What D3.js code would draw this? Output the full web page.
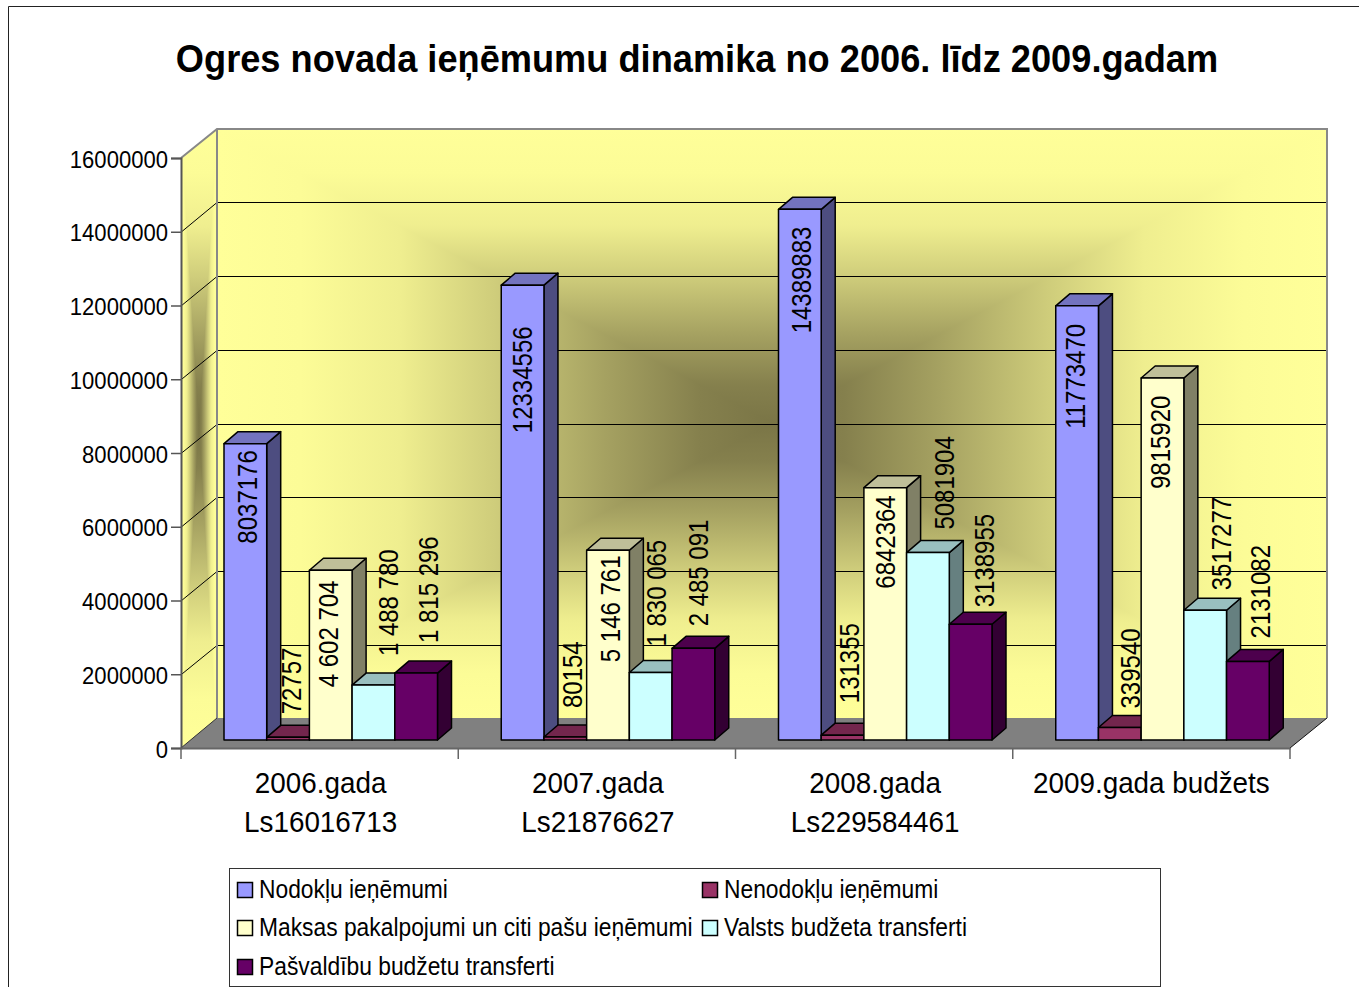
<!DOCTYPE html>
<html><head><meta charset="utf-8">
<script src="https://cdn.jsdelivr.net/npm/d3@7"></script>
<style>
html,body{margin:0;padding:0;background:#fff;overflow:hidden}
svg{display:block}
text{font-family:"Liberation Sans",Arial,sans-serif;fill:#000}
</style></head><body>
<script>
// ---- data ----
const categories = ["2006.gada","2007.gada","2008.gada","2009.gada budžets"];
const categorySums = ["Ls16016713","Ls21876627","Ls229584461",""];
const seriesNames = ["Nodokļu ieņēmumi","Nenodokļu ieņēmumi","Maksas pakalpojumi un citi pašu ieņēmumi","Valsts budžeta transferti","Pašvaldību budžetu transferti"];
const nodokli  = [8037176,12334556,14389883,11773470];
const nenodokli= [72757,80154,131355,339540];
const maksas   = [4602704,5146761,6842364,9815920];
const valsts   = [1488780,1830065,5081904,3517277];
const pasvaldibu=[1815296,2485091,3138955,2131082];
const nodokliLabels  = ["8037176","12334556","14389883","11773470"];
const nenodokliLabels= ["72757","80154","131355","339540"];
const maksasLabels   = ["4 602 704","5 146 761","6842364","9815920"];
const valstsLabels   = ["1 488 780","1 830 065","5081904","3517277"];
const pasvaldibuLabels=["1 815 296","2 485 091","3138955","2131082"];
const yTicks = [0,2000000,4000000,6000000,8000000,10000000,12000000,14000000,16000000];
const seriesColors = ["#9999FF","#993366","#FFFFCC","#CCFFFF","#660066"];

const allValues = [nodokli,nenodokli,maksas,valsts,pasvaldibu];
const allLabels = [nodokliLabels,nenodokliLabels,maksasLabels,valstsLabels,pasvaldibuLabels];

// label placement: baseline x offset from the bar's left edge, and
// y offset of the label's bottom end from the bar's top edge (by series, by category)
const labelDx = [[33,31,32,29],[34,38,38,42],[29,33,31,29],[46,37,47,47],[43,36,45,43]];
const labelDy = [[100,148,124,123],[-23,-29,-32,-19],[117,112,101,111],[-29,-26,-23,-20],[-30,-22,-17,-23]];

// ---- layout ----
const W=1359,H=987, SX=0.92;
const depthWall={x:36,y:-30}, depthBar={x:14,y:-12};
const y = d3.scaleLinear().domain([0,16000000]).range([748,158]);
const yBar = d3.scaleLinear().domain([0,16000000]).range([740,150]);
const x0 = d3.scaleBand().domain(categories).range([181,1290]);
const x1 = d3.scaleBand().domain(d3.range(5)).range([43,256.5]);

const svg=d3.select("body").append("svg").attr("width",W).attr("height",H);
const defs=svg.append("defs");

// outer frame
svg.append("path").attr("d",`M8.5,${H} V6.5 H${W}`).attr("fill","none").attr("stroke","#222").attr("stroke-width",1);

// title
svg.append("text").attr("transform",`translate(697,72) scale(0.953,1)`).attr("text-anchor","middle")
  .attr("font-size",38).attr("font-weight","bold").text("Ogres novada ieņēmumu dinamika no 2006. līdz 2009.gadam");

// rectangular path gradient
const yellow="#FFFF99", dark="#7A7546";
const mix=d3.interpolateRgb(yellow,dark);
const stops=[[0,0],[.15,.02],[.33,.12],[.5,.36],[.7,.68],[.87,.92],[1,1]];
function pathGradient(id,b,c,clipPts){
  const dirs={l:[b.x0,c.y,c.x,c.y],r:[b.x1,c.y,c.x,c.y],t:[c.x,b.y0,c.x,c.y],b:[c.x,b.y1,c.x,c.y]};
  Object.entries(dirs).forEach(([k,d])=>{
    const g=defs.append("linearGradient").attr("id",id+k).attr("gradientUnits","userSpaceOnUse")
      .attr("x1",d[0]).attr("y1",d[1]).attr("x2",d[2]).attr("y2",d[3]);
    stops.forEach(s=>g.append("stop").attr("offset",s[0]).attr("stop-color",mix(s[1])));
  });
  defs.append("clipPath").attr("id",id+"clip").append("polygon").attr("points",clipPts.join(" "));
  const g=svg.append("g").attr("clip-path",`url(#${id}clip)`);
  g.append("rect").attr("x",b.x0).attr("y",b.y0).attr("width",c.x-b.x0+.5).attr("height",b.y1-b.y0).attr("fill",`url(#${id}l)`);
  g.append("rect").attr("x",c.x).attr("y",b.y0).attr("width",b.x1-c.x).attr("height",b.y1-b.y0).attr("fill",`url(#${id}r)`);
  g.append("polygon").attr("points",[[b.x0,b.y0],[b.x1,b.y0],[c.x,c.y]].join(" ")).attr("fill",`url(#${id}t)`);
  g.append("polygon").attr("points",[[b.x0,b.y1],[b.x1,b.y1],[c.x,c.y]].join(" ")).attr("fill",`url(#${id}b)`);
}
const xL=x0.range()[0], xR=x0.range()[1];
const P=(px,py)=>[px+depthWall.x,py+depthWall.y];
const backTop=P(xL,y(16000000))[1]+1, backBot=P(xL,y(0))[1], backL=xL+depthWall.x, backR=xR+depthWall.x+1;

pathGradient("back",{x0:backL,x1:backR,y0:backTop,y1:backBot},{x:772,y:423},
  [[backL,backTop],[backR,backTop],[backR,backBot],[backL,backBot]]);
pathGradient("side",{x0:xL,x1:backL,y0:backTop,y1:y(0)},{x:199,y:425},
  [[xL,y(16000000)],[backL,backTop],[backL,backBot],[xL,y(0)]]);

// floor
svg.append("polygon").attr("points",[[xL,y(0)],[backL,backBot],[backR,backBot],[xR,y(0)]].join(" ")).attr("fill","#808080");
svg.append("line").attr("x1",xR).attr("y1",y(0)).attr("x2",backR).attr("y2",backBot).attr("stroke","#111");

// gridlines
const grid=svg.append("g").attr("fill","none").attr("stroke","#000").attr("stroke-width",1);
yTicks.slice(1,-1).forEach(t=>{
  const py=y(t), by=Math.floor(py-29)+.5;
  grid.append("path").attr("d",`M${xL},${py+.5} L${backL},${by} H${backR}`);
});
// wall edges
svg.append("path").attr("d",`M${xL},${y(16000000)} L${backL},${backTop} H${backR} V${backBot}`).attr("fill","none").attr("stroke","#888").attr("stroke-width",2);
svg.append("line").attr("x1",backL).attr("x2",backL).attr("y1",backTop).attr("y2",backBot).attr("stroke","#888").attr("stroke-width",2);
svg.append("line").attr("x1",xL).attr("y1",y(0)).attr("x2",backL).attr("y2",backBot).attr("stroke","#333");

// bars
const shade=(c,k)=>{const r=d3.rgb(c);return d3.rgb(r.r*k,r.g*k,r.b*k).formatHex();};
const bars=svg.append("g").attr("stroke","#000").attr("stroke-width",1.5).attr("stroke-linejoin","round");
const barData=categories.flatMap((c,ci)=>d3.range(5).map(si=>({c,ci,si,v:allValues[si][ci]})));
barData.forEach(d=>{
  const l=x0(d.c)+x1(d.si), r=l+x1.bandwidth(), t=yBar(d.v), b=yBar(0), dx=depthBar.x, dy=depthBar.y, col=seriesColors[d.si];
  bars.append("polygon").attr("points",[[r,t],[r+dx,t+dy],[r+dx,b+dy],[r,b]].join(" ")).attr("fill",shade(col,.5));
  bars.append("polygon").attr("points",[[l,t],[l+dx,t+dy],[r+dx,t+dy],[r,t]].join(" ")).attr("fill",shade(col,.75));
  bars.append("rect").attr("x",l).attr("y",t).attr("width",r-l).attr("height",b-t).attr("fill",col);
});

// y axis
const yAxis=d3.axisLeft(y).tickValues(yTicks).tickSize(10).tickPadding(3).tickFormat(d=>String(d));
const yg=svg.append("g").attr("transform",`translate(${xL},0)`).call(yAxis);
yg.select(".domain").attr("stroke","#555").attr("stroke-width",2);
yg.selectAll(".tick line").attr("stroke","#555").attr("stroke-width",1.5);
yg.selectAll(".tick text").attr("font-family",'"Liberation Sans",Arial,sans-serif').attr("font-size",24)
  .attr("transform",`translate(0,1.5) scale(${SX},1)`).attr("x",-13/SX);

// x axis
const xAxis=d3.axisBottom(x0).tickSize(0).tickFormat("");
const xg=svg.append("g").attr("transform",`translate(0,${y(0)})`).call(xAxis);
xg.select(".domain").attr("stroke","#666").attr("stroke-width",2);
const xBreaks=[...categories.map(c=>x0(c)),xR];
xg.selectAll(".brk").data(xBreaks).enter().append("line").attr("class","brk")
  .attr("x1",d=>d).attr("x2",d=>d).attr("y1",0).attr("y2",11).attr("stroke","#666").attr("stroke-width",1.5);
categories.forEach((c,i)=>{
  const cx=x0(c)+x0.bandwidth()/2+(i===3?0:1);
  svg.append("text").attr("transform",`translate(${cx},793) scale(0.96,1)`).attr("text-anchor","middle").attr("font-size",29).text(c);
  if(categorySums[i]) svg.append("text").attr("transform",`translate(${cx},832) scale(0.96,1)`).attr("text-anchor","middle").attr("font-size",29).text(categorySums[i]);
});

// rotated data labels
barData.forEach(d=>{
  const bx=x0(d.c)+x1(d.si)+labelDx[d.si][d.ci], by=yBar(d.v)+labelDy[d.si][d.ci];
  svg.append("text").attr("transform",`translate(${bx},${by}) scale(1.12,1) rotate(-90)`)
    .attr("font-size",24).text(allLabels[d.si][d.ci]);
});

// legend
const lg=svg.append("g");
lg.append("rect").attr("x",229.5).attr("y",868.5).attr("width",931).attr("height",118).attr("fill","#fff").attr("stroke","#333");
const legX=[237,702], legY=[882,920,959];
seriesNames.forEach((n,i)=>{
  const c=i%2, r=Math.floor(i/2);
  lg.append("rect").attr("x",legX[c]+.5).attr("y",legY[r]+.5).attr("width",15).attr("height",15).attr("fill",seriesColors[i]).attr("stroke","#000").attr("stroke-width",1.5);
  lg.append("text").attr("transform",`translate(${legX[c]+22},${legY[r]+16}) scale(0.913,1)`).attr("font-size",25).text(n);
});
</script>
</body></html>
